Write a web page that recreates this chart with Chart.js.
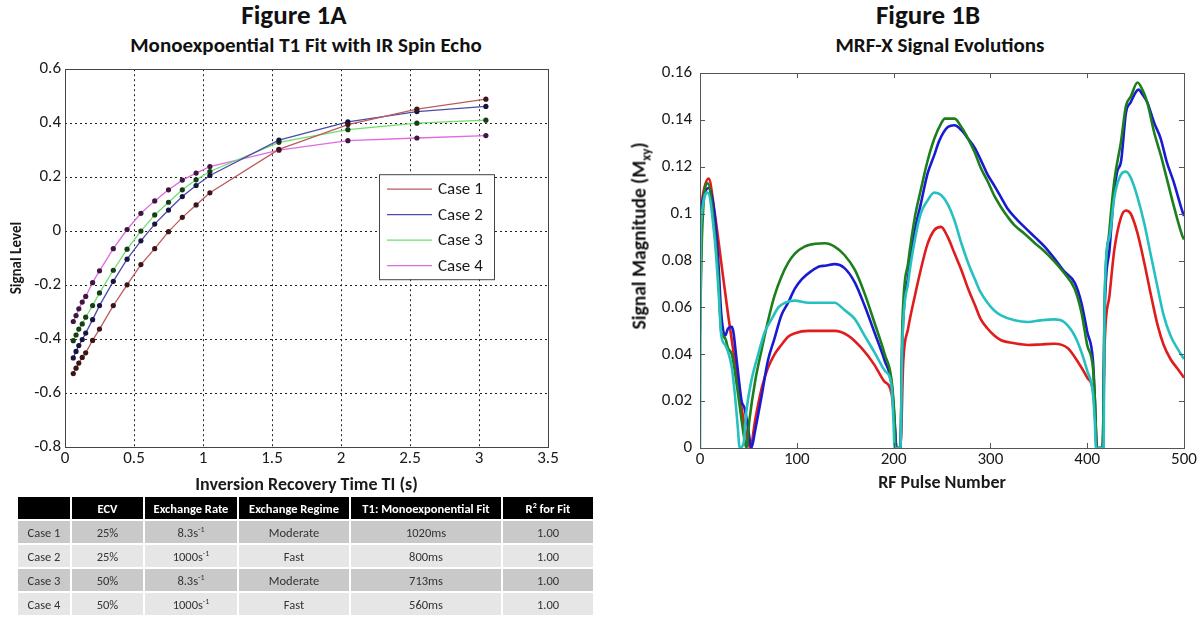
<!DOCTYPE html>
<html>
<head>
<meta charset="utf-8">
<script src="https://cdn.jsdelivr.net/npm/chart.js@4.4.1/dist/chart.umd.min.js"></script>
<style>
  body { margin: 0; width: 1200px; height: 622px; background: #fff; position: relative; overflow: hidden;
         font-family: Carlito, Lato, "Open Sans", sans-serif; color: #111; }
  .figTitle { position: absolute; width: 300px; text-align: center; font-weight: bold; font-size: 27px; line-height: 30px; }
  .subTitle { position: absolute; width: 460px; text-align: center; font-weight: bold; font-size: 21px; line-height: 24px; }
  #wrapA { position: absolute; left: 0; top: 55px; width: 600px; height: 442px; }
  #wrapB { position: absolute; left: 610px; top: 55px; width: 590px; height: 442px; }
  #yTitleB { position: absolute; left: 640px; top: 236px; transform: translate(-50%, -50%) rotate(-90deg);
             white-space: nowrap; font-weight: bold; font-size: 19.5px; }
  #yTitleB sub { font-size: 13px; }
  #tbl { position: absolute; left: 16px; top: 495px; width: 579px; border-collapse: separate; border-spacing: 2px;
         font-size: 12.5px; text-align: center; }
  #tbl th { background: #000; color: #fff; font-size: 12.5px; height: 22px; padding: 0; }
  #tbl td { height: 22px; padding: 0; color: #333; }
  #tbl tr.dark td { background: #c9c9c9; }
  #tbl tr.light td { background: #e6e6e6; }
  #tbl sup { font-size: 8px; }
</style>
</head>
<body>
<div class="figTitle" style="left:144px; top:0px;">Figure 1A</div>
<div class="subTitle" style="left:76px; top:33px;">Monoexpoential T1 Fit with IR Spin Echo</div>
<div class="figTitle" style="left:778px; top:0px;">Figure 1B</div>
<div class="subTitle" style="left:710px; top:33px;">MRF-X Signal Evolutions</div>

<div id="wrapA"><canvas id="chartA"></canvas></div>
<div id="wrapB"><canvas id="chartB"></canvas></div>
<div id="yTitleB">Signal Magnitude (M<sub>xy</sub>)</div>

<table id="tbl">
  <thead><tr><th style="width:52px"></th><th style="width:71px">ECV</th><th style="width:92px">Exchange Rate</th>
  <th style="width:110px">Exchange Regime</th><th style="width:150px">T1: Monoexponential Fit</th><th>R<sup>2</sup> for Fit</th></tr></thead>
  <tbody id="tblBody"></tbody>
</table>

<script>
// Figure 1A: inversion recovery samples
const tiSeconds = [0.06, 0.08, 0.1, 0.125, 0.15, 0.2, 0.25, 0.35, 0.45, 0.55, 0.65, 0.75, 0.85, 0.95, 1.05, 1.55, 2.05, 2.55, 3.05];
const case1Signal = [-0.528, -0.508, -0.489, -0.468, -0.451, -0.405, -0.363, -0.276, -0.199, -0.124, -0.065, -0.002, 0.051, 0.097, 0.142, 0.303, 0.395, 0.452, 0.489];
const case2Signal = [-0.470, -0.446, -0.424, -0.402, -0.378, -0.328, -0.276, -0.186, -0.104, -0.036, 0.026, 0.078, 0.128, 0.169, 0.206, 0.337, 0.405, 0.443, 0.462];
const case3Signal = [-0.406, -0.385, -0.363, -0.344, -0.319, -0.276, -0.229, -0.145, -0.067, 0.000, 0.060, 0.107, 0.153, 0.190, 0.221, 0.329, 0.376, 0.400, 0.411];
const case4Signal = [-0.335, -0.313, -0.288, -0.263, -0.242, -0.191, -0.147, -0.065, 0.006, 0.066, 0.112, 0.153, 0.189, 0.215, 0.239, 0.300, 0.335, 0.345, 0.354];
const caseLabels = ["Case 1", "Case 2", "Case 3", "Case 4"];
const caseLineColors = ["#bb5c5c", "#4b4ba8", "#6cdf6c", "#df6cdf"];
const caseDotColors = ["#3d1418", "#15153f", "#173d17", "#3d1740"];

// Figure 1B: signal evolutions (pulse number, |Mxy|)
const redPulse  = [0, 3, 9, 15, 22, 29, 36, 43, 50, 52, 57, 64, 70, 77, 84, 91, 98, 112, 124, 139, 153, 167, 180, 190, 198, 201, 203, 207, 210, 215, 222, 228, 235, 242, 249, 256, 263, 270, 277, 284, 290, 297, 304, 311, 325, 339, 352, 366, 380, 390, 400, 406, 408, 410, 416, 418, 423, 428, 435, 440, 445, 452, 459, 466, 473, 479, 486, 493, 500];
const redSignal = [0.097, 0.108, 0.115, 0.101, 0.079, 0.057, 0.037, 0.017, 0.002, 0.0, 0.012, 0.026, 0.034, 0.040, 0.044, 0.0475, 0.049, 0.050, 0.050, 0.050, 0.048, 0.0426, 0.0356, 0.0286, 0.023, 0.010, 0.0, 0.0, 0.037, 0.051, 0.065, 0.076, 0.087, 0.093, 0.0944, 0.090, 0.083, 0.076, 0.068, 0.061, 0.055, 0.051, 0.048, 0.046, 0.0447, 0.044, 0.0442, 0.0445, 0.0426, 0.037, 0.030, 0.0244, 0.015, 0.0, 0.0, 0.044, 0.065, 0.0846, 0.0986, 0.1014, 0.100, 0.0916, 0.079, 0.065, 0.052, 0.044, 0.038, 0.034, 0.030];

const bluePulse  = [0, 3, 9, 15, 19, 22, 26, 29, 33, 38, 43, 46, 50, 53, 57, 64, 70, 77, 84, 91, 98, 105, 115, 124, 129, 139, 149, 160, 170, 180, 191, 198, 201, 203, 207, 209, 215, 222, 228, 235, 242, 247, 256, 263, 270, 277, 284, 290, 297, 304, 311, 318, 325, 335, 346, 356, 366, 376, 387, 394, 400, 406, 408, 410, 416, 418, 423, 428, 431, 435, 440, 445, 450, 453, 457, 462, 469, 476, 482, 489, 498, 500];
const blueSignal = [0.095, 0.106, 0.111, 0.100, 0.079, 0.057, 0.048, 0.051, 0.0517, 0.037, 0.020, 0.017, 0.0076, 0.0, 0.0076, 0.023, 0.037, 0.0468, 0.0566, 0.062, 0.068, 0.072, 0.0755, 0.0776, 0.0778, 0.0785, 0.0769, 0.0706, 0.0608, 0.0496, 0.037, 0.027, 0.012, 0.0, 0.0, 0.045, 0.073, 0.093, 0.104, 0.117, 0.125, 0.131, 0.137, 0.1378, 0.1357, 0.132, 0.128, 0.123, 0.1168, 0.112, 0.107, 0.102, 0.0986, 0.0944, 0.090, 0.086, 0.081, 0.0755, 0.0706, 0.062, 0.0496, 0.037, 0.020, 0.0, 0.0, 0.058, 0.0846, 0.110, 0.118, 0.1224, 0.143, 0.1476, 0.1518, 0.153, 0.151, 0.1476, 0.139, 0.132, 0.1224, 0.114, 0.1014, 0.099];

const greenPulse  = [0, 2, 8, 15, 19, 22, 26, 29, 33, 38, 43, 46, 48, 51, 57, 64, 70, 77, 84, 91, 98, 108, 119, 129, 139, 149, 160, 170, 180, 191, 198, 201, 202, 207, 209, 215, 222, 228, 235, 242, 249, 253, 263, 270, 277, 284, 290, 297, 304, 311, 318, 325, 335, 346, 356, 366, 376, 387, 394, 400, 406, 408, 410, 416, 418, 423, 428, 435, 440, 445, 452, 457, 462, 469, 476, 482, 489, 498, 500];
const greenSignal = [0.050, 0.090, 0.113, 0.093, 0.072, 0.0496, 0.0468, 0.0426, 0.0398, 0.027, 0.0118, 0.0034, 0.0, 0.0118, 0.0286, 0.0426, 0.0538, 0.065, 0.073, 0.079, 0.083, 0.086, 0.0872, 0.0874, 0.086, 0.0825, 0.076, 0.066, 0.0538, 0.0398, 0.0286, 0.012, 0.0, 0.0, 0.052, 0.079, 0.0986, 0.110, 0.1224, 0.132, 0.1385, 0.1406, 0.1406, 0.137, 0.132, 0.126, 0.1196, 0.114, 0.1077, 0.1028, 0.0986, 0.095, 0.0916, 0.0874, 0.0839, 0.0797, 0.0748, 0.068, 0.058, 0.044, 0.034, 0.020, 0.0, 0.0, 0.062, 0.093, 0.114, 0.131, 0.146, 0.150, 0.156, 0.153, 0.1476, 0.135, 0.125, 0.1154, 0.104, 0.0909, 0.089];

const cyanPulse  = [0, 1, 8, 15, 19, 22, 26, 29, 33, 36, 39, 41, 45, 48, 53, 60, 67, 74, 81, 88, 98, 112, 124, 139, 149, 160, 170, 180, 191, 198, 200, 201, 207, 209, 215, 222, 228, 235, 242, 249, 256, 263, 270, 277, 284, 290, 297, 304, 311, 325, 339, 352, 366, 376, 387, 394, 400, 406, 408, 409, 417, 418, 423, 428, 435, 440, 445, 452, 459, 466, 473, 479, 486, 493, 500];
const cyanSignal = [0.0, 0.095, 0.109, 0.090, 0.068, 0.048, 0.044, 0.041, 0.034, 0.023, 0.009, 0.0, 0.002, 0.016, 0.0286, 0.0398, 0.0496, 0.055, 0.060, 0.062, 0.0629, 0.062, 0.062, 0.062, 0.059, 0.055, 0.048, 0.041, 0.033, 0.026, 0.010, 0.0, 0.0, 0.044, 0.0706, 0.089, 0.100, 0.1056, 0.109, 0.108, 0.104, 0.097, 0.0874, 0.079, 0.072, 0.0664, 0.062, 0.0587, 0.0566, 0.0545, 0.0538, 0.0545, 0.0549, 0.0538, 0.048, 0.041, 0.033, 0.023, 0.010, 0.0, 0.0, 0.065, 0.090, 0.107, 0.1168, 0.118, 0.1154, 0.107, 0.0958, 0.0818, 0.068, 0.0566, 0.048, 0.0426, 0.038];

// Table under Figure 1A
const tableCases = ["Case 1", "Case 2", "Case 3", "Case 4"];
const tableEcv = ["25%", "25%", "50%", "50%"];
const tableRate = ["8.3", "1000", "8.3", "1000"];
const tableRegime = ["Moderate", "Fast", "Moderate", "Fast"];
const tableT1 = ["1020ms", "800ms", "713ms", "560ms"];
const tableR2 = ["1.00", "1.00", "1.00", "1.00"];

const FONT = 'Carlito, Lato, "Open Sans", sans-serif';
Chart.defaults.font.family = FONT;
Chart.defaults.color = "#1a1a1a";

const fmt = v => String(Number(v.toFixed(2)));

// box around plot area + inside tick marks
const boxPlugin = {
  id: "boxPlugin",
  afterDatasetsDraw(chart, args, opts) {
    const { ctx, chartArea: a, scales } = chart;
    ctx.save();
    ctx.strokeStyle = opts.color || "#444";
    ctx.lineWidth = 1;
    ctx.setLineDash([]);
    if (opts.ticks) {
      ctx.beginPath();
      scales.x.ticks.forEach(t => {
        const px = Math.round(scales.x.getPixelForValue(t.value)) + 0.5;
        ctx.moveTo(px, a.bottom); ctx.lineTo(px, a.bottom - 5);
        ctx.moveTo(px, a.top); ctx.lineTo(px, a.top + 5);
      });
      scales.y.ticks.forEach(t => {
        const py = Math.round(scales.y.getPixelForValue(t.value)) + 0.5;
        ctx.moveTo(a.left, py); ctx.lineTo(a.left + 5, py);
        ctx.moveTo(a.right, py); ctx.lineTo(a.right - 5, py);
      });
      ctx.stroke();
    }
    ctx.strokeRect(Math.round(a.left) + 0.5, Math.round(a.top) + 0.5, Math.round(a.width), Math.round(a.height));
    ctx.restore();
  }
};

// legend box drawn inside the plot area of Figure 1A
const boxLegend = {
  id: "boxLegend",
  afterDraw(chart) {
    const { ctx, chartArea: a } = chart;
    const x = a.right - 169, y = a.top + 105, w = 115, h = 105;
    ctx.save();
    ctx.fillStyle = "#fff";
    ctx.fillRect(x, y, w, h);
    ctx.strokeStyle = "#444";
    ctx.lineWidth = 1;
    ctx.strokeRect(x + 0.5, y + 0.5, w, h);
    ctx.font = "17px " + FONT;
    ctx.textBaseline = "middle";
    chart.data.datasets.forEach((ds, i) => {
      const ry = y + 15 + i * 25.5;
      ctx.strokeStyle = ds.borderColor;
      ctx.lineWidth = 1.3;
      ctx.beginPath();
      ctx.moveTo(x + 8, ry); ctx.lineTo(x + 53, ry);
      ctx.stroke();
      ctx.fillStyle = "#1a1a1a";
      ctx.fillText(ds.label, x + 59, ry + 1);
    });
    ctx.restore();
  }
};

const caseSignals = [case1Signal, case2Signal, case3Signal, case4Signal];

new Chart("chartA", {
  type: "line",
  data: {
    datasets: caseSignals.map((sig, i) => ({
      label: caseLabels[i],
      data: tiSeconds.map((t, j) => ({ x: t, y: sig[j] })),
      borderColor: caseLineColors[i],
      borderWidth: 1.3,
      pointRadius: 2.6,
      pointBorderWidth: 0,
      pointBackgroundColor: caseDotColors[i],
      tension: 0,
    })),
  },
  options: {
    responsive: true,
    maintainAspectRatio: false,
    animation: false,
    layout: { padding: { left: 0, right: 52, top: 12, bottom: 0 } },
    plugins: { legend: { display: false }, tooltip: { enabled: false }, boxPlugin: { color: "#444" } },
    scales: {
      x: {
        type: "linear", min: 0, max: 3.5,
        ticks: { stepSize: 0.5, padding: 2, font: { size: 17 }, callback: fmt, maxRotation: 0 },
        grid: { color: "#222", lineWidth: 1, drawTicks: false },
        border: { display: false, dash: [2, 3] },
        title: { display: true, text: "Inversion Recovery Time TI (s)", font: { size: 18, weight: "bold" }, padding: { top: 0, bottom: 1 } },
        afterFit: s => { s.height = 50; },
      },
      y: {
        min: -0.8, max: 0.6,
        ticks: { stepSize: 0.2, padding: 4, font: { size: 17 }, callback: fmt },
        grid: { color: "#222", lineWidth: 1, drawTicks: false },
        border: { display: false, dash: [2, 3] },
        title: { display: true, text: "Signal Level", font: { size: 15, weight: "bold" }, padding: { top: 8, bottom: 0 } },
        afterFit: s => { s.width = 65; },
      },
    },
  },
  plugins: [boxPlugin, boxLegend],
});

const mrfSeries = [
  { pulse: cyanPulse, signal: cyanSignal, color: "#26c0c0" },
  { pulse: greenPulse, signal: greenSignal, color: "#1c7f1c" },
  { pulse: bluePulse, signal: blueSignal, color: "#1a1ad0" },
  { pulse: redPulse, signal: redSignal, color: "#e01c1c" },
];

new Chart("chartB", {
  type: "line",
  data: {
    datasets: mrfSeries.map(s => ({
      data: s.pulse.map((p, j) => ({ x: p, y: s.signal[j] })),
      borderColor: s.color,
      borderWidth: 2.6,
      pointRadius: 0,
      cubicInterpolationMode: "monotone",
    })),
  },
  options: {
    responsive: true,
    maintainAspectRatio: false,
    animation: false,
    layout: { padding: { left: 0, right: 16, top: 12, bottom: 0 } },
    plugins: { legend: { display: false }, tooltip: { enabled: false }, boxPlugin: { color: "#555", ticks: true } },
    scales: {
      x: {
        type: "linear", min: 0, max: 500,
        ticks: { stepSize: 100, padding: 2, font: { size: 17 }, maxRotation: 0 },
        grid: { display: false, drawTicks: false },
        border: { display: false },
        title: { display: true, text: "RF Pulse Number", font: { size: 18, weight: "bold" }, padding: { top: 0, bottom: 3 } },
        afterFit: s => { s.height = 49; },
      },
      y: {
        min: 0, max: 0.16,
        ticks: { stepSize: 0.02, padding: 8, font: { size: 17 }, callback: fmt },
        grid: { display: false, drawTicks: false },
        border: { display: false },
        afterFit: s => { s.width = 90; },
      },
    },
  },
  plugins: [boxPlugin],
});

// table rows
const body = document.getElementById("tblBody");
tableCases.forEach((c, i) => {
  const tr = document.createElement("tr");
  tr.className = i % 2 === 0 ? "dark" : "light";
  tr.innerHTML = `<td>${c}</td><td>${tableEcv[i]}</td><td>${tableRate[i]}s<sup>-1</sup></td>` +
    `<td>${tableRegime[i]}</td><td>${tableT1[i]}</td><td>${tableR2[i]}</td>`;
  body.appendChild(tr);
});
</script>
</body>
</html>
